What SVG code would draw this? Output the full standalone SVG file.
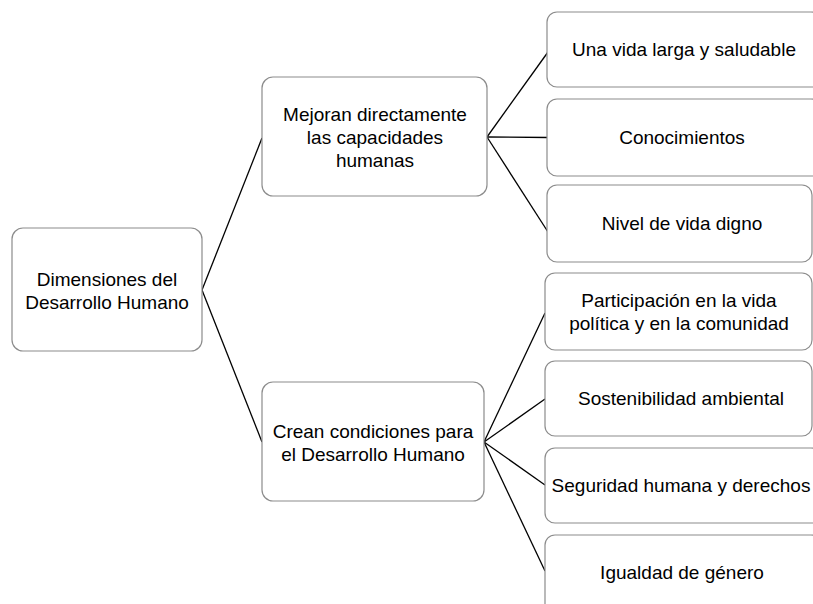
<svg xmlns="http://www.w3.org/2000/svg" width="813" height="604" viewBox="0 0 813 604">
<style>
.box{fill:#ffffff;stroke:#8c8c8c;stroke-width:1.2}
.t{font-family:"Liberation Sans",Arial,sans-serif;font-size:19px;fill:#000000;text-anchor:middle}
.c{stroke:#000000;stroke-width:1.3;fill:none}
</style>
<rect x="0" y="0" width="813" height="604" fill="#ffffff"/>
<g id="connectors">
<line class="c" x1="202" y1="290" x2="262" y2="138"/>
<line class="c" x1="202" y1="290" x2="262" y2="442"/>
<line class="c" x1="487" y1="137" x2="548" y2="52"/>
<line class="c" x1="487" y1="137" x2="548" y2="137.5"/>
<line class="c" x1="487" y1="137" x2="548" y2="232"/>
<line class="c" x1="484" y1="442" x2="545" y2="313"/>
<line class="c" x1="484" y1="442" x2="545" y2="399"/>
<line class="c" x1="484" y1="442" x2="545" y2="485"/>
<line class="c" x1="484" y1="442" x2="545" y2="571"/>
</g>
<g id="root">
<rect class="box" x="12" y="228" width="190" height="123" rx="11"/>
<text class="t" x="107" y="285.5">Dimensiones del</text>
<text class="t" x="107" y="308.5">Desarrollo Humano</text>
</g>
<g id="mid1">
<rect class="box" x="262" y="77" width="225" height="119" rx="11"/>
<text class="t" x="375" y="121">Mejoran directamente</text>
<text class="t" x="375" y="144">las capacidades</text>
<text class="t" x="375" y="167">humanas</text>
</g>
<g id="mid2">
<rect class="box" x="262" y="382" width="222" height="119" rx="11"/>
<text class="t" x="373" y="438">Crean condiciones para</text>
<text class="t" x="373" y="461">el Desarrollo Humano</text>
</g>
<g id="n1">
<rect class="box" x="547" y="12" width="274" height="75" rx="10"/>
<text class="t" x="684" y="56">Una vida larga y saludable</text>
</g>
<g id="n2">
<rect class="box" x="547" y="99" width="274" height="77" rx="10"/>
<text class="t" x="682" y="144">Conocimientos</text>
</g>
<g id="n3">
<rect class="box" x="547" y="185" width="265" height="77" rx="10"/>
<text class="t" x="682" y="230">Nivel de vida digno</text>
</g>
<g id="n4">
<rect class="box" x="545" y="273" width="267" height="77" rx="10"/>
<text class="t" x="679" y="307">Participación en la vida</text>
<text class="t" x="679" y="330">política y en la comunidad</text>
</g>
<g id="n5">
<rect class="box" x="545" y="361" width="267" height="75" rx="10"/>
<text class="t" x="681" y="405">Sostenibilidad ambiental</text>
</g>
<g id="n6">
<rect class="box" x="545" y="448" width="276" height="75" rx="10"/>
<text class="t" x="681" y="492">Seguridad humana y derechos</text>
</g>
<g id="n7">
<rect class="box" x="545" y="535" width="276" height="80" rx="10"/>
<text class="t" x="682" y="579">Igualdad de género</text>
</g>
</svg>
